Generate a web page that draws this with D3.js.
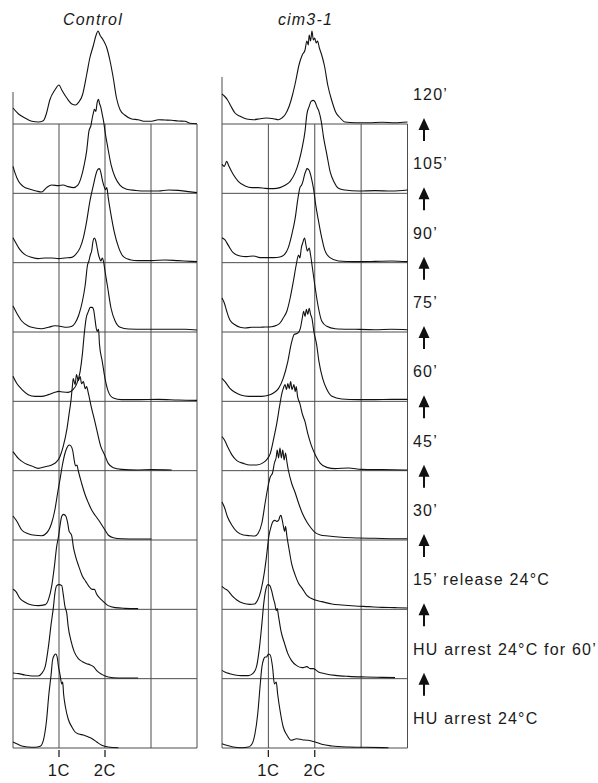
<!DOCTYPE html>
<html>
<head>
<meta charset="utf-8">
<script src="https://cdn.jsdelivr.net/npm/d3@7"></script>
<style>
  html, body { margin: 0; padding: 0; background: #fff; }
  svg { display: block; }
  text { font-family: "Liberation Sans", Arial, Helvetica, sans-serif; fill: #1a1a1a; }
</style>
</head>
<body>
<svg id="chart" width="598" height="783"></svg>
<script>
// DNA-content histograms (flow cytometry), one per time point, top = latest.
const panelTitles = ["Control", "cim3-1"];
const stageLabels = ["120’", "105’", "90’", "75’", "60’", "45’", "30’",
  "15’ release 24°C", "HU arrest 24°C for 60’", "HU arrest 24°C"];
const ploidyTicks = [1, 2];
const ploidyTickLabels = ["1C", "2C"];
const gridValues = [0, 1, 2, 3, 4];
const topAxisHeights = [32, 47];

// [DNA content (C units), relative cell count]
const controlHistograms = [
  [[0,16],[0.12,10],[0.26,6],[0.41,2.7],[0.55,2],[0.66,3.3],[0.73,11],[0.80,24],[0.91,34],[1.00,39],[1.06,34],[1.17,26],[1.28,20],[1.36,19],[1.43,22],[1.51,29],[1.60,49],[1.67,66],[1.75,79],[1.80,88],[1.85,93],[1.89,89],[1.96,84],[2.04,76],[2.11,63],[2.18,46],[2.25,26],[2.33,14],[2.43,9],[2.58,5],[2.72,4.3],[2.87,2.7],[3.01,2.7],[3.16,4.3],[3.30,4],[3.45,3.7],[3.59,3],[3.74,2.7],[3.85,0.7],[4.00,0.3]],
  [[0,27],[0.04,21],[0.12,12],[0.22,7],[0.37,4],[0.51,2.3],[0.62,1.3],[0.73,5.7],[0.84,8.3],[0.99,7.7],[1.09,8.3],[1.20,6.7],[1.31,5.7],[1.41,8.3],[1.48,15.7],[1.55,29],[1.60,42],[1.65,62],[1.70,69],[1.71,72],[1.75,81],[1.77,84],[1.80,82],[1.83,91],[1.86,94],[1.88,90],[1.91,86],[1.94,79],[1.97,72],[2.00,62],[2.06,46],[2.13,29],[2.22,16],[2.33,8],[2.47,4],[2.65,3],[2.87,2.3],[3.16,2.3],[3.38,3.3],[3.59,3],[3.81,1.7],[4.00,0.7]],
  [[0,25],[0.06,20],[0.15,13],[0.26,8],[0.41,5.3],[0.55,4],[0.70,4.7],[0.84,4.7],[0.99,4],[1.13,4.7],[1.28,5.3],[1.36,8],[1.46,15],[1.53,25],[1.60,41],[1.67,61],[1.75,78],[1.80,88],[1.84,93],[1.88,94],[1.91,90],[1.95,81],[1.99,75],[2.01,73],[2.04,75],[2.07,65],[2.13,48],[2.20,31],[2.29,16],[2.40,6],[2.54,3],[2.72,2],[3.01,2],[3.30,2.7],[3.59,2],[3.88,1.3],[4.00,1]],
  [[0,26],[0.08,19],[0.19,11],[0.33,6],[0.48,4],[0.62,3.3],[0.77,4.7],[0.91,6.3],[1.02,5.7],[1.17,4.7],[1.28,5.7],[1.35,9],[1.43,17],[1.51,31],[1.57,47],[1.62,67],[1.65,71],[1.68,77],[1.71,81],[1.74,91],[1.77,94],[1.80,91],[1.83,84],[1.86,77],[1.88,74],[1.91,71],[1.94,74],[1.97,70],[2.00,61],[2.06,44],[2.13,24],[2.22,11],[2.33,4.7],[2.51,3],[2.87,2.7],[3.30,2.7],[3.74,2.7],[4.00,2]],
  [[0,25],[0.08,18],[0.19,12],[0.33,6.7],[0.48,5],[0.62,5],[0.77,6.7],[0.91,9],[0.99,10],[1.09,9.3],[1.20,9],[1.31,12],[1.38,17],[1.46,30],[1.51,48],[1.55,68],[1.59,83],[1.64,90],[1.68,94],[1.72,94],[1.75,92],[1.78,83],[1.81,73],[1.83,70],[1.86,72],[1.88,57],[1.94,40],[2.00,23],[2.07,10],[2.18,3.3],[2.36,1.7],[2.72,1.7],[3.16,2],[3.59,1.3],[4.00,1]],
  [[0,19],[0.12,12],[0.26,7.3],[0.41,4.7],[0.55,2.3],[0.70,4],[0.84,5.7],[0.95,9],[1.02,14],[1.09,24],[1.17,41],[1.22,57],[1.26,70],[1.29,84],[1.31,92],[1.35,86],[1.38,96],[1.42,90],[1.46,94],[1.49,87],[1.53,89],[1.57,82],[1.60,84],[1.64,77],[1.70,64],[1.77,51],[1.84,37],[1.91,24],[1.99,16],[2.07,7.3],[2.18,3],[2.36,1.3],[2.72,0.7],[3.01,1],[3.45,0.7]],
  [[0,24],[0.08,19],[0.19,10],[0.33,6.3],[0.48,4.7],[0.62,4.3],[0.73,7],[0.84,17],[0.91,30],[0.97,47],[1.02,60],[1.07,74],[1.12,85],[1.17,92],[1.22,95],[1.26,94],[1.30,89],[1.33,80],[1.36,74],[1.39,75],[1.42,69],[1.49,57],[1.57,45],[1.64,37],[1.71,30],[1.78,25],[1.86,20],[1.93,15],[2.00,10],[2.07,5],[2.18,2.3],[2.36,1.3],[2.72,1],[3.01,1]],
  [[0,20],[0.06,18],[0.15,11],[0.26,7],[0.41,4.3],[0.55,3.7],[0.70,4.7],[0.77,9.7],[0.84,23],[0.90,43],[0.95,63],[0.99,73],[1.02,83],[1.06,93],[1.10,95],[1.15,93],[1.19,86],[1.22,78],[1.25,76],[1.28,73],[1.31,63],[1.36,53],[1.43,43],[1.51,33],[1.58,28],[1.65,23],[1.72,20],[1.77,20],[1.82,15],[1.89,11],[1.96,8],[2.07,3.7],[2.22,1.7],[2.43,1],[2.72,0.7]],
  [[0,5.7],[0.12,5],[0.26,3.7],[0.41,2.7],[0.55,2.7],[0.62,5],[0.70,12],[0.77,32],[0.83,55],[0.88,72],[0.91,85],[0.95,93],[1.00,94],[1.06,93],[1.09,85],[1.13,72],[1.17,65],[1.20,52],[1.26,38],[1.33,27],[1.42,20],[1.51,17],[1.60,15],[1.67,14],[1.75,12],[1.82,8],[1.93,4.3],[2.07,1.7],[2.29,0.7],[2.72,0.7]],
  [[0,6],[0.08,4.3],[0.19,2],[0.33,1],[0.48,0.7],[0.59,1.7],[0.66,7.7],[0.73,28],[0.78,54],[0.83,74],[0.86,88],[0.90,93],[0.93,94],[0.96,91],[0.99,81],[1.02,74],[1.06,64],[1.08,66],[1.10,54],[1.14,41],[1.20,29],[1.28,21],[1.35,16],[1.43,14],[1.53,13],[1.64,11],[1.72,9.3],[1.82,6],[1.93,2.7],[2.07,1],[2.29,0.3]]
];

const cimHistograms = [
  [[0,30],[0.05,28],[0.12,24],[0.19,18],[0.28,11],[0.39,7.7],[0.53,5],[0.68,4.3],[0.82,5.3],[0.96,6],[1.11,5.3],[1.22,4.3],[1.29,6],[1.36,9.3],[1.45,18],[1.52,29],[1.59,43],[1.66,59],[1.73,69],[1.79,74],[1.83,83],[1.86,79],[1.88,89],[1.91,83],[1.94,93],[1.97,84],[2.00,86],[2.03,81],[2.06,83],[2.10,76],[2.15,69],[2.21,58],[2.28,39],[2.37,23],[2.45,12],[2.55,6],[2.65,2],[2.87,1.3],[3.16,1.3],[3.45,1.7],[3.73,1.3],[4.00,2]],
  [[0,29],[0.05,27],[0.10,32],[0.15,27],[0.24,19],[0.35,12],[0.50,7.3],[0.64,5.7],[0.78,5.7],[0.93,5],[1.11,4.7],[1.25,5.7],[1.36,8],[1.47,12],[1.58,21],[1.66,32],[1.73,46],[1.79,62],[1.83,79],[1.88,87],[1.92,92],[1.97,93],[2.01,91],[2.05,86],[2.09,82],[2.14,72],[2.19,56],[2.26,39],[2.33,22],[2.42,11],[2.51,5],[2.65,3.3],[2.94,2.3],[3.30,2.7],[3.66,2.3],[4.00,3.3]],
  [[0,25],[0.06,23],[0.14,17],[0.24,10],[0.39,6.7],[0.53,6],[0.68,6.7],[0.82,5],[0.96,5],[1.11,5],[1.25,5.7],[1.35,8.3],[1.43,15],[1.50,27],[1.58,45],[1.63,62],[1.68,75],[1.72,78],[1.75,82],[1.78,88],[1.81,92],[1.83,94],[1.87,93],[1.91,88],[1.94,82],[1.98,72],[2.02,58],[2.08,42],[2.15,25],[2.22,12],[2.33,5],[2.51,1.7],[2.87,1],[3.30,1.3],[3.66,1.7],[4.00,1]],
  [[0,34],[0.05,29],[0.10,21],[0.17,12],[0.28,7.3],[0.39,4.7],[0.50,4],[0.64,4.7],[0.78,4.7],[0.93,5],[1.07,5.3],[1.18,6.7],[1.25,9],[1.32,14],[1.40,21],[1.47,34],[1.54,51],[1.60,67],[1.65,77],[1.68,74],[1.71,84],[1.74,89],[1.78,94],[1.81,87],[1.84,81],[1.88,84],[1.91,77],[1.95,64],[2.01,44],[2.08,24],[2.15,11],[2.26,5.7],[2.44,3.3],[2.87,2.7],[3.30,2.3],[3.66,2.7],[4.00,2.3]],
  [[0,23],[0.06,20],[0.17,13],[0.28,9],[0.42,6],[0.57,5],[0.71,5],[0.86,5],[1.00,6],[1.11,8.3],[1.22,13],[1.32,23],[1.42,40],[1.49,57],[1.56,67],[1.63,68],[1.69,73],[1.73,83],[1.76,90],[1.79,85],[1.82,92],[1.85,87],[1.88,93],[1.91,87],[1.94,83],[1.98,70],[2.04,57],[2.09,40],[2.17,23],[2.26,12],[2.37,5],[2.58,2.3],[2.94,1.7],[3.30,1.7],[3.66,2],[4.00,2]],
  [[0,34],[0.05,31],[0.12,24],[0.21,16],[0.32,10],[0.46,7.3],[0.60,5.7],[0.75,5.7],[0.89,8],[0.96,10.7],[1.04,17],[1.11,31],[1.18,47],[1.24,64],[1.29,77],[1.32,82],[1.36,86],[1.39,81],[1.42,87],[1.45,82],[1.48,89],[1.51,81],[1.55,86],[1.58,79],[1.60,84],[1.63,74],[1.68,67],[1.73,57],[1.79,49],[1.85,37],[1.92,26],[2.01,16],[2.12,7.3],[2.26,3.3],[2.44,2],[2.73,2.7],[3.01,1.3],[3.45,1],[4.00,0.7]],
  [[0,38],[0.05,33],[0.12,23],[0.21,15],[0.32,8.3],[0.46,5],[0.60,4.3],[0.71,4],[0.78,6.7],[0.86,17],[0.93,37],[0.99,53],[1.04,63],[1.09,67],[1.13,77],[1.17,83],[1.19,90],[1.22,82],[1.25,92],[1.28,82],[1.31,90],[1.34,80],[1.37,87],[1.40,78],[1.43,70],[1.50,57],[1.58,47],[1.65,37],[1.73,27],[1.83,18],[1.92,12],[2.01,7.3],[2.12,5],[2.29,4],[2.58,2.7],[2.94,2],[3.30,1.7],[3.73,1.3],[4.00,1.3]],
  [[0,23],[0.05,21],[0.12,19],[0.21,14],[0.32,9.3],[0.46,6],[0.60,5],[0.70,5.3],[0.77,9.3],[0.84,19],[0.91,36],[0.96,53],[1.01,73],[1.06,83],[1.10,88],[1.14,89],[1.18,88],[1.22,89],[1.25,93],[1.27,94],[1.30,89],[1.32,84],[1.35,78],[1.37,83],[1.40,73],[1.45,59],[1.50,46],[1.58,34],[1.65,26],[1.73,21],[1.83,14],[1.92,11],[2.01,9.3],[2.15,7.7],[2.37,5.3],[2.58,4.3],[2.87,3.3],[3.16,2.7],[3.45,2],[3.73,1.7],[4.00,1.3]],
  [[0,8.3],[0.06,6.7],[0.17,5],[0.28,3.7],[0.42,3],[0.57,3],[0.68,5.7],[0.75,13],[0.81,32],[0.86,55],[0.90,75],[0.94,88],[0.99,94],[1.03,93],[1.07,88],[1.11,80],[1.14,75],[1.17,68],[1.19,70],[1.22,62],[1.27,48],[1.35,35],[1.42,25],[1.50,18],[1.61,13],[1.73,11],[1.83,12],[1.90,10],[1.97,10],[2.08,6.7],[2.22,5],[2.44,3.3],[2.73,2.3],[3.09,1.7],[3.45,1.3],[3.73,1]],
  [[0,4.3],[0.10,2.7],[0.24,1],[0.42,0.3],[0.57,1],[0.65,4.3],[0.71,14],[0.77,34],[0.82,61],[0.86,81],[0.90,89],[0.93,91],[0.96,91],[1.00,94],[1.04,93],[1.09,81],[1.13,64],[1.17,66],[1.20,54],[1.25,38],[1.32,21],[1.40,13],[1.49,7.7],[1.61,9.3],[1.73,8.3],[1.86,7.7],[2.01,6],[2.15,3.7],[2.37,2],[2.73,1],[3.09,0.7],[3.59,0.3]]
];

const histogramSets = [controlHistograms, cimHistograms];

// ---- layout ----
const svg = d3.select("#chart");
const gridTop = 124, gridBottom = 748;
const panels = [
  { left: 13, right: 197, titleX: 93 },
  { left: 222, right: 407.5, titleX: 305.5 }
];
const rowBaseline = d3.scaleLinear().domain([0, stageLabels.length - 1]).range([gridTop, gridBottom]);
const countScale = d3.scaleLinear().domain([0, 100]).range([0, 100]);
const lineColor = "#111";
const gridColor = "#4d4d4d";

panels.forEach((p, pi) => {
  const x = d3.scaleLinear().domain([0, 4]).range([p.left, p.right]);
  const g = svg.append("g");

  // title
  g.append("text")
    .attr("x", p.titleX).attr("y", 25)
    .attr("text-anchor", "middle")
    .style("font-size", "16px").style("font-style", "italic").style("letter-spacing", "1.2px")
    .text(panelTitles[pi]);

  // grid: vertical lines
  g.selectAll("line.v").data(gridValues).join("line")
    .attr("x1", d => x(d)).attr("x2", d => x(d))
    .attr("y1", gridTop).attr("y2", gridBottom)
    .attr("stroke", gridColor).attr("stroke-width", 1);

  // grid: horizontal baselines
  g.selectAll("line.h").data(d3.range(stageLabels.length)).join("line")
    .attr("x1", x(0)).attr("x2", x(4))
    .attr("y1", d => rowBaseline(d)).attr("y2", d => rowBaseline(d))
    .attr("stroke", gridColor).attr("stroke-width", 1);

  // count axis stub on the top histogram
  g.append("line")
    .attr("x1", x(0)).attr("x2", x(0))
    .attr("y1", gridTop - countScale(topAxisHeights[pi])).attr("y2", gridTop)
    .attr("stroke", gridColor).attr("stroke-width", 1);

  // histograms
  histogramSets[pi].forEach((hist, ri) => {
    const base = rowBaseline(ri);
    const line = d3.line()
      .x(d => x(d[0]))
      .y(d => base - countScale(d[1]))
      .curve(d3.curveMonotoneX);
    g.append("path")
      .attr("d", line(hist))
      .attr("fill", "none")
      .attr("stroke", lineColor)
      .attr("stroke-width", 1.1)
      .attr("stroke-linejoin", "round");
  });

  // ploidy ticks and labels
  const axisG = g.append("g");
  ploidyTicks.forEach((t, ti) => {
    axisG.append("line")
      .attr("x1", x(t)).attr("x2", x(t))
      .attr("y1", gridBottom + 2).attr("y2", gridBottom + 9)
      .attr("stroke", "#222").attr("stroke-width", 1.3);
    axisG.append("text")
      .attr("x", x(t)).attr("y", gridBottom + 28)
      .attr("text-anchor", "middle")
      .style("font-size", "16.5px").style("letter-spacing", "0.6px")
      .text(ploidyTickLabels[ti]);
  });
});

// time-course labels with arrows between them
const labelX = 413, arrowX = 424;
const labelG = svg.append("g");
stageLabels.forEach((lab, i) => {
  labelG.append("text")
    .attr("x", labelX).attr("y", rowBaseline(i) - 24)
    .style("font-size", "16px").style("letter-spacing", "1.2px")
    .text(lab);
});
d3.range(stageLabels.length - 1).forEach(i => {
  const top = rowBaseline(i) - 6;
  labelG.append("path")
    .attr("d", `M${arrowX},${top} L${arrowX - 5.5},${top + 12} L${arrowX + 5.5},${top + 12} Z`)
    .attr("fill", "#111");
  labelG.append("line")
    .attr("x1", arrowX).attr("x2", arrowX)
    .attr("y1", top + 10).attr("y2", top + 23)
    .attr("stroke", "#111").attr("stroke-width", 2);
});
</script>
</body>
</html>
